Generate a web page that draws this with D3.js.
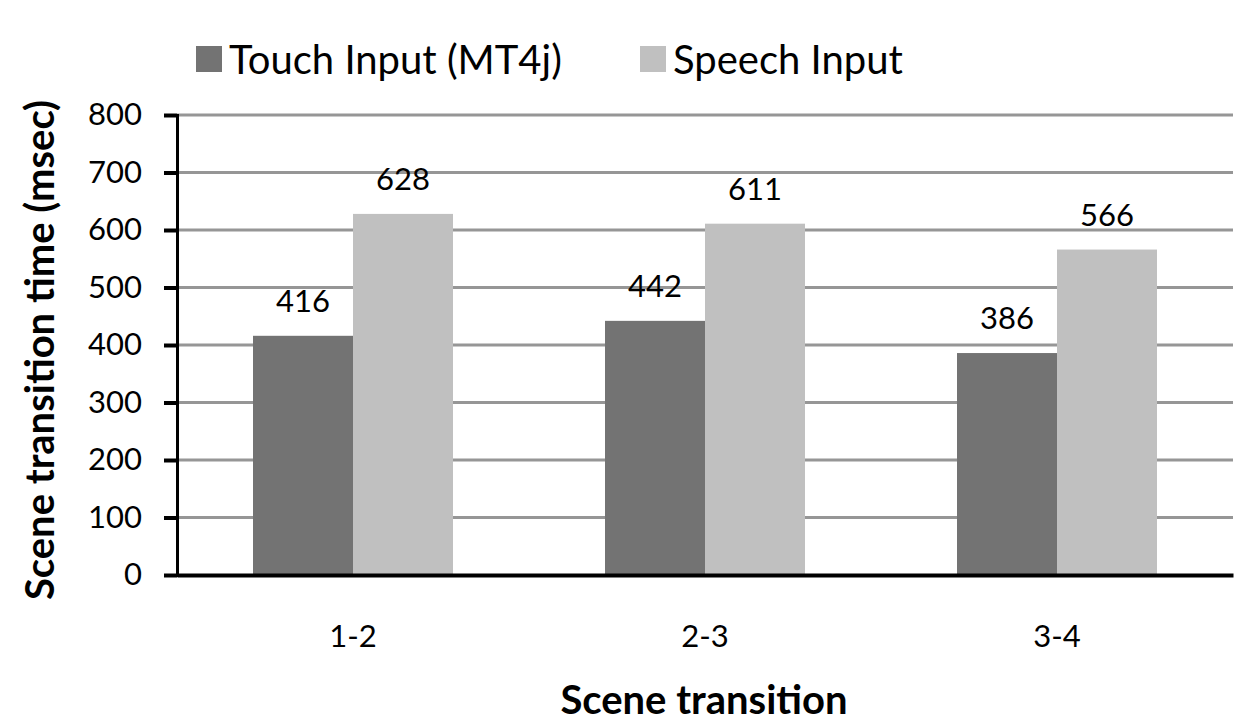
<!DOCTYPE html>
<html><head><meta charset="utf-8">
<script src="https://cdn.jsdelivr.net/npm/d3@7"></script>
<style>body{margin:0;background:#fff;} text{font-family:Lato,"Open Sans",sans-serif;}</style>
</head><body>
<svg id="chart" width="1246" height="726"></svg>
<script>
const categories = ["1-2", "2-3", "3-4"];
const seriesNames = ["Touch Input (MT4j)", "Speech Input"];
const touchValues = [416, 442, 386];
const speechValues = [628, 611, 566];
const yTicks = [0, 100, 200, 300, 400, 500, 600, 700, 800];
const colors = ["#737373", "#c0c0c0"];

(function () {
const svg = d3.select("#chart");
const mLeft = 177, mRight = 1233, mTop = 115, mBottom = 575;
const y = d3.scaleLinear().domain([0, 800]).range([mBottom, mTop]);
const x0 = d3.scaleBand().domain(categories).range([mLeft, mRight]).paddingInner(0).paddingOuter(0);
const x1 = d3.scaleBand().domain(seriesNames).range([76, x0.bandwidth() - 76]);

// gridlines
svg.append("g").selectAll("line").data(yTicks.filter(d => d > 0)).join("line")
  .attr("x1", mLeft).attr("x2", mRight).attr("y1", d => y(d)).attr("y2", d => y(d))
  .attr("stroke", "#969696").attr("stroke-width", 3);

// bars
const data = categories.map((c, i) => ({c, vals: [touchValues[i], speechValues[i]]}));
const g = svg.append("g").selectAll("g").data(data).join("g")
  .attr("transform", d => `translate(${x0(d.c)},0)`);
g.selectAll("rect").data(d => d.vals.map((v, j) => ({v, s: seriesNames[j], j}))).join("rect")
  .attr("x", d => x1(d.s)).attr("width", x1.bandwidth())
  .attr("y", d => y(d.v)).attr("height", d => y(0) - y(d.v))
  .attr("fill", d => colors[d.j]);
g.selectAll("text").data(d => d.vals.map((v, j) => ({v, s: seriesNames[j], j}))).join("text")
  .attr("x", d => x1(d.s) + x1.bandwidth() / 2).attr("y", d => y(d.v) - 24)
  .attr("text-anchor", "middle").attr("font-size", 31).attr("fill", "#000")
  .text(d => d.v);

// y axis
const yAxis = d3.axisLeft(y).tickValues(yTicks).tickSize(13).tickPadding(22);
const ya = svg.append("g").attr("transform", `translate(${mLeft},0)`).call(yAxis);
ya.select(".domain").attr("stroke", "#000").attr("stroke-width", 3);
ya.selectAll(".tick line").attr("stroke", "#000").attr("stroke-width", 4);
ya.selectAll(".tick text").attr("font-size", 31).attr("fill", "#000").attr("font-family", "Lato");

// x axis
const xAxis = d3.axisBottom(x0).tickSize(0).tickPadding(50);
const xa = svg.append("g").attr("transform", `translate(0,${mBottom})`).call(xAxis);
xa.select(".domain").attr("stroke", "#000").attr("stroke-width", 4);
xa.selectAll(".tick text").attr("font-size", 31).attr("fill", "#000").attr("font-family", "Lato");

// axis titles
svg.append("text").attr("transform", `translate(54,${(mTop + mBottom) / 2 + 5}) rotate(-90)`)
  .attr("text-anchor", "middle").attr("font-size", 40).attr("font-weight", "bold")
  .text("Scene transition time (msec)");
svg.append("text").attr("x", 704).attr("y", 714).attr("text-anchor", "middle")
  .attr("font-size", 40).attr("font-weight", "bold").text("Scene transition");

// legend
const legX = [196, 640];
const leg = svg.append("g").selectAll("g").data(seriesNames).join("g")
  .attr("transform", (d, i) => `translate(${legX[i]},0)`);
leg.append("rect").attr("x", 0).attr("y", 46).attr("width", 26).attr("height", 26)
  .attr("fill", (d, i) => colors[i]);
leg.append("text").attr("x", 33).attr("y", 74).attr("font-size", 40).attr("fill", "#000").text(d => d);
})();
</script>
</body></html>
